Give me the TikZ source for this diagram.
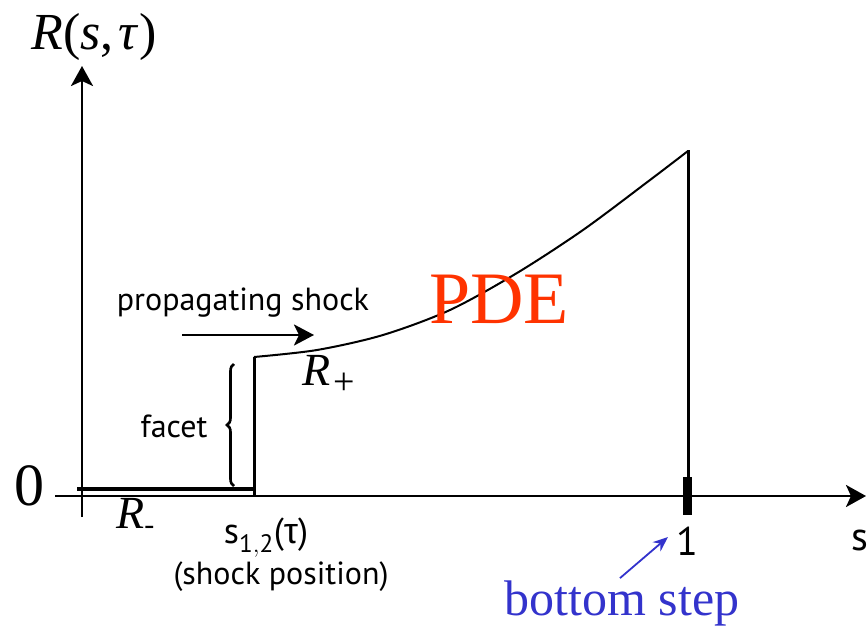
\documentclass[tikz,border=0pt]{standalone}
\usepackage{fontspec}
\setmainfont{Liberation Serif}
\setsansfont{PT Sans}
\newfontfamily\greeksans{Liberation Sans}
\usetikzlibrary{arrows.meta,calc,positioning,decorations.pathreplacing}
\definecolor{PlotInk}{HTML}{000000}
\definecolor{PlotRed}{HTML}{FF3300}
\definecolor{PlotBlue}{HTML}{3333CC}
\tikzset{
  every node/.style={text=PlotInk, inner sep=0pt},
  axis/.style={-{Stealth[length=20pt,width=22pt,inset=5pt]}, draw=PlotInk, line width=2.8pt},
  profile/.style={draw=PlotInk, line width=2pt},
  wall/.style={draw=PlotInk, line width=3pt},
  floor/.style={draw=PlotInk, line width=4.4pt},
  motion/.style={-{Stealth[length=20pt,width=21pt,inset=5pt]}, draw=PlotInk, line width=2.8pt},
  pointer/.style={-{Stealth[length=15pt,width=12pt]}, draw=PlotBlue, line width=1.8pt},
  bigmath/.style={font=\fontsize{52}{56}\selectfont, anchor=base},
  sidelabel/.style={font=\sffamily\fontsize{32}{36}\selectfont, anchor=base},
  axlabel/.style={font=\sffamily\fontsize{40}{44}\selectfont, anchor=base},
}

\begin{document}
\begin{tikzpicture}[x=1pt,y=-1pt]
  \useasboundingbox (0,0) rectangle (867,626);
  % Axes
  \coordinate (xstart) at (55,496);
  \coordinate (xend) at (866,496);
  \coordinate (ystart) at (82,517);
  \coordinate (yend) at (82,66);
  \draw[axis] (xstart) -- (xend);
  \draw[axis] (ystart) -- (yend);
  \node[bigmath] (ylab) at (94,50) {\textit{R}(\textit{s},\kern5pt\textit{τ})};
  \node[bigmath, font=\fontsize{60}{64}\selectfont] (zero) at (29,505) {0};
  % Left state and shock
  \coordinate (lowleft) at (77,489);
  \coordinate (lowright) at (253,489);
  \coordinate (shockfoot) at (254,496);
  \coordinate (shocktop) at (254,357);
  \draw[floor] (lowleft) -- (lowright);
  \draw[wall] (shockfoot) -- (shocktop);
  % Right state
  \draw[profile] plot[smooth] coordinates {(254,357) (317,350) (383,335) (450,310) (517,273) (583,230) (650,180) (688,151)};
  \coordinate (walltop) at (688,150);
  \coordinate (wallfoot) at (688,496);
  \draw[wall] (walltop) -- (wallfoot);
  \fill[PlotInk] (683,477) rectangle (692,515);
  % Facet brace
  \coordinate (bracelow) at (234,486);
  \coordinate (bracehigh) at (234,364);
  \draw[decorate, decoration={brace, amplitude=7pt}, line width=2.6pt] (bracelow) -- (bracehigh);
  \node[sidelabel] (facetlab) at (174,437) {facet};
  % Shock motion
  \node[sidelabel] (proplab) at (243,310) {propagating shock};
  \coordinate (movefrom) at (182,335);
  \coordinate (moveto) at (314,335);
  \draw[motion] (movefrom) -- (moveto);
  % Labels
  \node[bigmath, anchor=base west, font=\fontsize{46}{50}\selectfont] (rplus) at (302,385) {\textit{R}\kern3pt\raisebox{-9pt}{\fontsize{38}{40}\selectfont +}};
  \node[bigmath, anchor=base west, font=\fontsize{46}{50}\selectfont] (rminus) at (116,528) {\textit{R}\raisebox{-6pt}{\fontsize{30}{32}\selectfont -}};
  \node[bigmath, text=PlotRed, font=\fontsize{74}{78}\selectfont] (pde) at (499,323) {PDE};
  \node[sidelabel, font=\sffamily\fontsize{36}{40}\selectfont] (spos) at (266,543) {s$_{\mathsf{1,2}}$({\greeksans τ})};
  \node[sidelabel] (shockpos) at (281,584) {(shock position)};
  \node[axlabel] (one) at (687,555) {1};
  \node[axlabel] (slab) at (860,550) {s};
  \node[bigmath, text=PlotBlue, font=\fontsize{50}{54}\selectfont] (bstep) at (622,615) {bottom step};
  \draw[pointer] (bstep.north) ++(-2,-2) coordinate (pfrom) (pfrom) -- (668,537);
\end{tikzpicture}
\end{document}
